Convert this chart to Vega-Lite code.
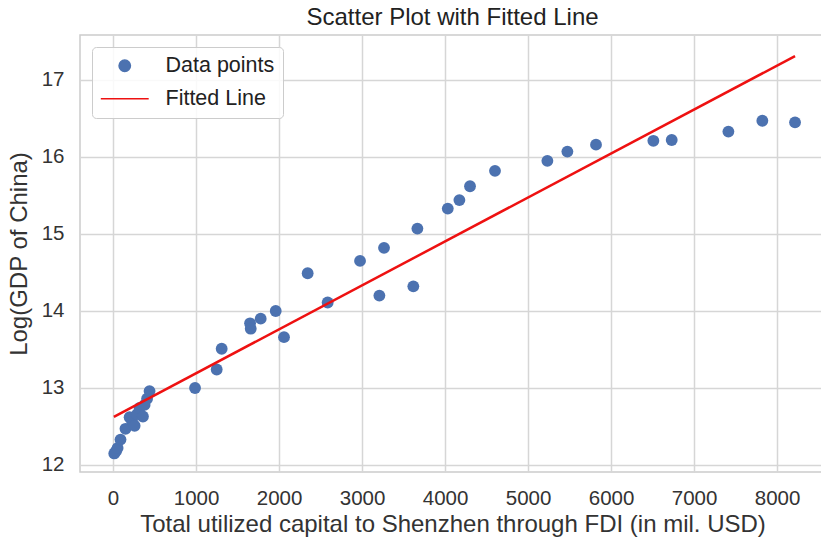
{
  "$schema": "https://vega.github.io/schema/vega-lite/v6.json",
  "width": 745,
  "height": 437,
  "autosize": {"type": "none"},
  "padding": {"left": 80, "top": 35, "right": 0, "bottom": 69},
  "background": "white",
  "title": {"text": "Scatter Plot with Fitted Line", "fontSize": 24, "font": "Liberation Sans", "fontWeight": "normal", "color": "#222222", "offset": 5},
  "config": {
    "view": {"stroke": "#cccccc", "strokeWidth": 1.5},
    "axis": {"grid": true, "gridColor": "#d6d6d6", "gridWidth": 1.5, "domain": false, "ticks": false, "labelFont": "Liberation Sans", "labelFontSize": 20.5, "labelColor": "#333333", "titleFont": "Liberation Sans", "titleFontSize": 24, "titleFontWeight": "normal", "titleColor": "#333333"}
  },
  "datasets": {
    "points": [
      {"x": 15, "y": 12.15, "series": "Data points"},
      {"x": 35, "y": 12.18, "series": "Data points"},
      {"x": 55, "y": 12.22, "series": "Data points"},
      {"x": 90, "y": 12.33, "series": "Data points"},
      {"x": 150, "y": 12.47, "series": "Data points"},
      {"x": 200, "y": 12.62, "series": "Data points"},
      {"x": 230, "y": 12.56, "series": "Data points"},
      {"x": 260, "y": 12.51, "series": "Data points"},
      {"x": 290, "y": 12.66, "series": "Data points"},
      {"x": 320, "y": 12.74, "series": "Data points"},
      {"x": 360, "y": 12.63, "series": "Data points"},
      {"x": 380, "y": 12.78, "series": "Data points"},
      {"x": 410, "y": 12.86, "series": "Data points"},
      {"x": 440, "y": 12.96, "series": "Data points"},
      {"x": 988, "y": 13.0, "series": "Data points"},
      {"x": 1249, "y": 13.24, "series": "Data points"},
      {"x": 1309, "y": 13.51, "series": "Data points"},
      {"x": 1651, "y": 13.84, "series": "Data points"},
      {"x": 1659, "y": 13.77, "series": "Data points"},
      {"x": 1779, "y": 13.9, "series": "Data points"},
      {"x": 1960, "y": 14.0, "series": "Data points"},
      {"x": 2060, "y": 13.66, "series": "Data points"},
      {"x": 2345, "y": 14.49, "series": "Data points"},
      {"x": 2586, "y": 14.11, "series": "Data points"},
      {"x": 2976, "y": 14.65, "series": "Data points"},
      {"x": 3209, "y": 14.2, "series": "Data points"},
      {"x": 3265, "y": 14.82, "series": "Data points"},
      {"x": 3618, "y": 14.32, "series": "Data points"},
      {"x": 3667, "y": 15.07, "series": "Data points"},
      {"x": 4033, "y": 15.33, "series": "Data points"},
      {"x": 4173, "y": 15.44, "series": "Data points"},
      {"x": 4301, "y": 15.62, "series": "Data points"},
      {"x": 4602, "y": 15.82, "series": "Data points"},
      {"x": 5233, "y": 15.95, "series": "Data points"},
      {"x": 5474, "y": 16.07, "series": "Data points"},
      {"x": 5819, "y": 16.16, "series": "Data points"},
      {"x": 6510, "y": 16.21, "series": "Data points"},
      {"x": 6731, "y": 16.22, "series": "Data points"},
      {"x": 7414, "y": 16.33, "series": "Data points"},
      {"x": 7823, "y": 16.47, "series": "Data points"},
      {"x": 8217, "y": 16.45, "series": "Data points"}
    ],
    "fit": [
      {"x": 10, "y": 12.626, "series": "Fitted Line"},
      {"x": 8217, "y": 17.31, "series": "Fitted Line"}
    ]
  },
  "encoding": {
    "x": {"field": "x", "type": "quantitative", "scale": {"domain": [-398, 8578], "nice": false, "zero": false},
      "axis": {"values": [0, 1000, 2000, 3000, 4000, 5000, 6000, 7000, 8000], "format": "d", "title": "Total utilized capital to Shenzhen through FDI (in mil. USD)", "labelPadding": 16, "titlePadding": 4}},
    "y": {"field": "y", "type": "quantitative", "scale": {"domain": [11.909, 17.584], "nice": false, "zero": false},
      "axis": {"values": [12, 13, 14, 15, 16, 17], "title": "Log(GDP of China)", "labelPadding": 16, "titlePadding": 10}}
  },
  "layer": [
    {
      "data": {"name": "points"},
      "mark": {"type": "point", "filled": true, "opacity": 1, "size": 140},
      "encoding": {
        "color": {"field": "series", "type": "nominal", "scale": {"domain": ["Data points", "Fitted Line"], "range": ["#4C72B0", "#ee1111"]},
          "legend": {"title": null, "orient": "top-left", "offset": 12, "padding": 8, "strokeColor": "#cccccc", "fillColor": "rgba(255,255,255,0.85)", "cornerRadius": 4, "labelFontSize": 21.5, "labelFont": "Liberation Sans", "labelColor": "#222222", "rowPadding": 10, "symbolSize": 130, "symbolOffset": 14, "labelOffset": 30,
            "encode": {"symbols": {"update": {"stroke": {"scale": "color", "field": "value"}, "strokeWidth": {"value": 2.5}}}}}},
        "shape": {"field": "series", "type": "nominal", "scale": {"domain": ["Data points", "Fitted Line"], "range": ["circle", "M-4.2,0H4.2"]},
          "legend": {"title": null, "orient": "top-left", "offset": 12, "padding": 8, "strokeColor": "#cccccc", "fillColor": "rgba(255,255,255,0.85)", "cornerRadius": 4, "labelFontSize": 21.5, "labelFont": "Liberation Sans", "labelColor": "#222222", "rowPadding": 10, "symbolSize": 130, "symbolOffset": 14, "labelOffset": 30,
            "encode": {"symbols": {"update": {"stroke": {"scale": "color", "field": "value"}, "strokeWidth": {"value": 2.5}}}}}}
      }
    },
    {
      "data": {"name": "fit"},
      "mark": {"type": "line", "strokeWidth": 2.5},
      "encoding": {
        "color": {"field": "series", "type": "nominal"}
      }
    }
  ]
}
